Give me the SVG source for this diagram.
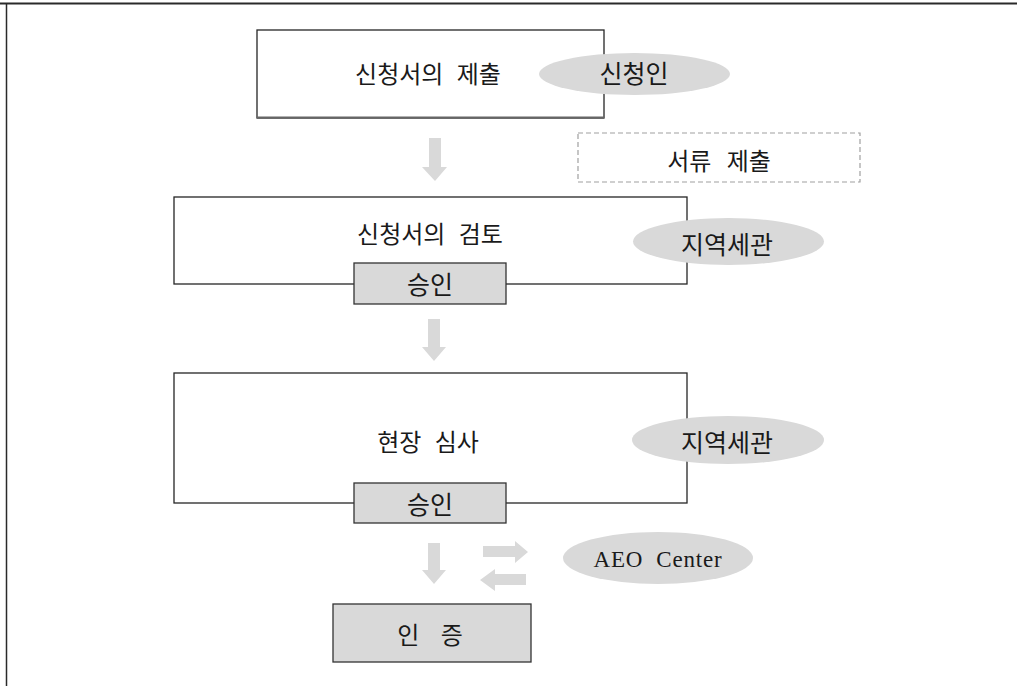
<svg xmlns="http://www.w3.org/2000/svg" width="1017" height="686" viewBox="0 0 1017 686">
  <style>
    .frame { fill: none; stroke: #2a2a2a; }
    .box { fill: #ffffff; stroke: #262626; stroke-width: 1.3; }
    .tag { fill: #d9d9d9; stroke: #333333; stroke-width: 1.3; }
    .oval { fill: #d9d9d9; stroke: none; }
    .dash { fill: #ffffff; stroke: #a0a0a0; stroke-width: 1.2; stroke-dasharray: 5 3; }
    .flow { fill: #d9d9d9; stroke: none; }
    .ko { font-family: "Noto Sans CJK KR", "Noto Sans", sans-serif; fill: #1a1a1a; text-anchor: middle; dominant-baseline: central; }
    .en { font-family: "Liberation Serif", "DejaVu Serif", serif; fill: #1a1a1a; text-anchor: middle; dominant-baseline: central; }
  </style>

  <!-- page frame (top and left rules) -->
  <g id="frame">
    <line class="frame" x1="0" y1="3.5" x2="1017" y2="3.5" stroke-width="2" />
    <line class="frame" x1="6.5" y1="3" x2="6.5" y2="686" stroke-width="1.5" />
  </g>

  <!-- flow arrows -->
  <g id="connectors">
    <path class="flow" d="M429,138 H441 V167 H447 L435,181 L422,167 H429 Z" />
    <path class="flow" d="M428,319 H440 V347 H446 L434,361 L422,347 H428 Z" />
    <path class="flow" d="M428,543 H440 V570 H446 L434,584 L422,570 H428 Z" />
    <path class="flow" d="M483,546 H515 V541 L528,552 L515,563 V557 H483 Z" />
    <path class="flow" d="M526,574 H495 V569 L480,580 L495,591 V585 H526 Z" />
  </g>

  <!-- step 1: application -->
  <g id="submit-application">
    <rect class="box" x="257" y="30" width="347" height="88" />
    <line x1="257" y1="117.5" x2="604" y2="117.5" stroke="#666666" stroke-width="2" />
    <text class="ko" x="428" y="72" font-size="24" word-spacing="8">신청서의 제출</text>
  </g>
  <g id="applicant">
    <ellipse class="oval" cx="634.5" cy="74" rx="95.5" ry="21" />
    <text class="ko" x="634" y="72" font-size="25">신청인</text>
  </g>

  <g id="document-submission">
    <rect class="dash" x="578" y="133" width="282" height="49" />
    <text class="ko" x="719" y="159" font-size="24" word-spacing="10">서류 제출</text>
  </g>

  <!-- step 2: review -->
  <g id="review-application">
    <rect class="box" x="174" y="197" width="513" height="87" />
    <text class="ko" x="430" y="232" font-size="24" word-spacing="8">신청서의 검토</text>
  </g>
  <g id="approval-1">
    <rect class="tag" x="354" y="263" width="152" height="41" />
    <text class="ko" x="430" y="283" font-size="25">승인</text>
  </g>
  <g id="regional-customs-1">
    <ellipse class="oval" cx="728.5" cy="241.5" rx="95.5" ry="23.5" />
    <text class="ko" x="727" y="243" font-size="25">지역세관</text>
  </g>

  <!-- step 3: on-site audit -->
  <g id="site-audit">
    <rect class="box" x="174" y="373" width="513" height="130" />
    <text class="ko" x="428" y="440" font-size="24" word-spacing="8">현장 심사</text>
  </g>
  <g id="approval-2">
    <rect class="tag" x="354" y="483" width="152" height="40" />
    <text class="ko" x="430" y="503" font-size="25">승인</text>
  </g>
  <g id="regional-customs-2">
    <ellipse class="oval" cx="728" cy="440" rx="96" ry="24" />
    <text class="ko" x="727" y="441" font-size="25">지역세관</text>
  </g>

  <!-- AEO center exchange -->
  <g id="aeo-center">
    <ellipse class="oval" cx="658" cy="558" rx="95" ry="26" />
    <text class="en" x="658" y="559" font-size="23" letter-spacing="0.8" xml:space="preserve">AEO  Center</text>
  </g>

  <!-- final step: certification -->
  <g id="certification">
    <rect class="tag" x="333" y="604" width="198" height="58" />
    <text class="ko" x="430" y="633" font-size="24" word-spacing="16">인 증</text>
  </g>
</svg>
